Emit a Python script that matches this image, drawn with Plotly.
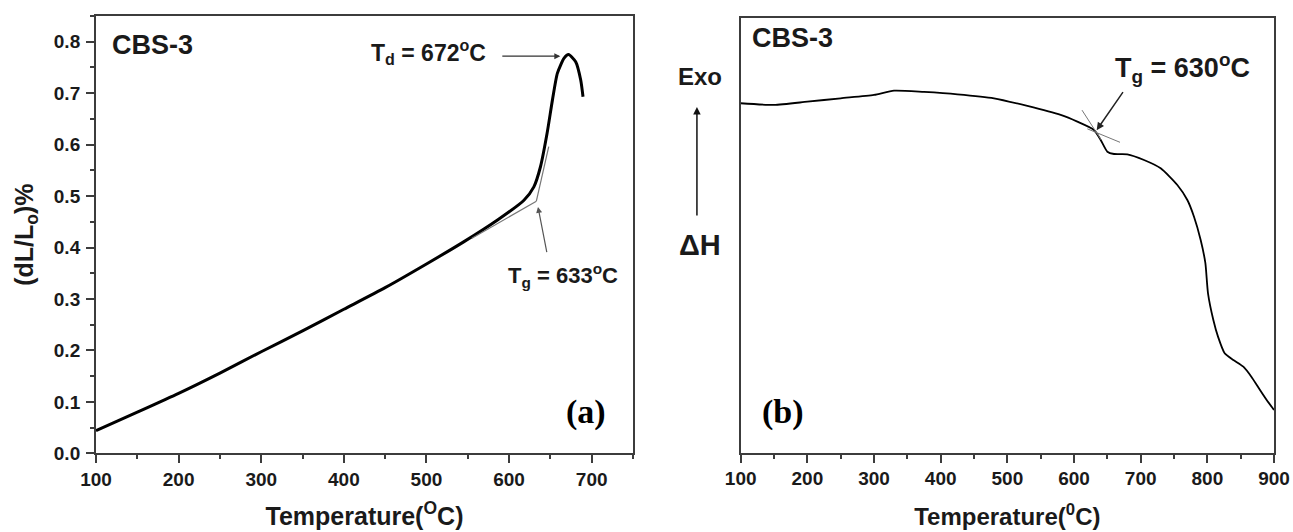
import plotly.graph_objects as go

# ---- dilatometry (CBS-3) ----
dil_temp = [100, 150, 200, 250, 300, 350, 400, 450, 500, 545, 586, 618, 630,
            638, 646, 652.5, 658.5, 666.6, 672, 680.6, 686.7, 689.5]
dil_dl = [0.044, 0.080, 0.1166, 0.156, 0.1975, 0.238, 0.280, 0.322, 0.368,
          0.411, 0.4535, 0.492, 0.518, 0.557, 0.622, 0.687, 0.739, 0.768,
          0.775, 0.761, 0.7256, 0.693]
dil_tangent_low_t = [555, 633]
dil_tangent_low_y = [0.418, 0.490]
dil_tangent_high_t = [633, 648]
dil_tangent_high_y = [0.490, 0.596]

# ---- DSC (CBS-3), arbitrary heat-flow units ----
dsc_temp = [100, 150, 200, 250, 300, 330, 375, 425, 480, 530, 580, 605, 630,
            640, 650, 660, 680, 705, 730, 755, 770, 780, 790, 797, 801, 809,
            816, 826, 839, 854, 866, 879, 889, 900]
dsc_heat = [80.38, 79.99, 80.74, 81.53, 82.29, 83.28, 82.98, 82.45, 81.53,
            79.76, 77.69, 76.15, 74.24, 71.94, 69.24, 68.71, 68.64, 67.33,
            65.43, 61.58, 58.13, 54.29, 48.93, 43.64, 36.67, 30.53, 26.69,
            22.87, 21.33, 19.78, 17.48, 14.42, 12.12, 9.82]
dsc_tangent_a_t = [612, 641]
dsc_tangent_a_y = [78.8, 71.9]
dsc_tangent_b_t = [620, 669]
dsc_tangent_b_y = [74.5, 71.4]

x_ticks_a = [100, 200, 300, 400, 500, 600, 700]
y_ticks_a = [0.0, 0.1, 0.2, 0.3, 0.4, 0.5, 0.6, 0.7, 0.8]
x_ticks_b = [100, 200, 300, 400, 500, 600, 700, 800, 900]

SANS = "Liberation Sans, Arial, sans-serif"
SERIF = "Liberation Serif, Times New Roman, serif"
AXIS_COLOR = "#3c3c3c"

fig = go.Figure()

fig.add_trace(go.Scatter(x=dil_temp, y=dil_dl, mode="lines",
                         line=dict(color="black", width=3, shape="spline",
                                   smoothing=0.6),
                         xaxis="x", yaxis="y", showlegend=False))
fig.add_trace(go.Scatter(x=dil_tangent_low_t, y=dil_tangent_low_y, mode="lines",
                         line=dict(color="#777777", width=1.2),
                         xaxis="x", yaxis="y", showlegend=False))
fig.add_trace(go.Scatter(x=dil_tangent_high_t, y=dil_tangent_high_y, mode="lines",
                         line=dict(color="#777777", width=1.2),
                         xaxis="x", yaxis="y", showlegend=False))

fig.add_trace(go.Scatter(x=dsc_temp, y=dsc_heat, mode="lines",
                         line=dict(color="black", width=1.8, shape="spline",
                                   smoothing=0.6),
                         xaxis="x2", yaxis="y2", showlegend=False))
fig.add_trace(go.Scatter(x=dsc_tangent_a_t, y=dsc_tangent_a_y, mode="lines",
                         line=dict(color="#777777", width=1),
                         xaxis="x2", yaxis="y2", showlegend=False))
fig.add_trace(go.Scatter(x=dsc_tangent_b_t, y=dsc_tangent_b_y, mode="lines",
                         line=dict(color="#777777", width=1),
                         xaxis="x2", yaxis="y2", showlegend=False))

tickfont = dict(family=SANS, size=19, color="#1a1a1a", weight="bold")
titlefont = dict(family=SANS, size=25, color="#1a1a1a", weight="bold")

common_axis = dict(showline=True, linecolor=AXIS_COLOR, linewidth=2,
                   mirror=True, showgrid=False, zeroline=False,
                   automargin=False,
                   ticks="outside", ticklen=8, tickwidth=1.5,
                   tickcolor=AXIS_COLOR, tickfont=tickfont)

fig.update_layout(
    width=1293, height=532,
    margin=dict(l=0, r=0, t=0, b=0, autoexpand=False),
    paper_bgcolor="white", plot_bgcolor="white",
    xaxis=dict(common_axis, domain=[0.07425, 0.48956], range=[100, 750],
               tickvals=x_ticks_a, ticklabelstandoff=0,
               minor=dict(ticks="outside", ticklen=4, tickwidth=1.5,
                          tickcolor=AXIS_COLOR, dtick=50, tick0=100),
               title=dict(text="Temperature(<sup>O</sup>C)", font=titlefont,
                          standoff=18),
               anchor="y"),
    yaxis=dict(common_axis, domain=[0.1479, 0.9699], range=[0, 0.85],
               tickvals=y_ticks_a, tickformat=".1f", ticklabelstandoff=2,
               minor=dict(ticks="outside", ticklen=4, tickwidth=1.5,
                          tickcolor=AXIS_COLOR, dtick=0.05, tick0=0),
               title=dict(text="(dL/L<sub>o</sub>)%", font=titlefont,
                          standoff=13),
               anchor="x"),
    xaxis2=dict(common_axis, domain=[0.57285, 0.98531], range=[100, 900],
                tickvals=x_ticks_b, ticklabelstandoff=0,
                minor=dict(ticks="outside", ticklen=4, tickwidth=1.5,
                           tickcolor=AXIS_COLOR, dtick=50, tick0=100),
                title=dict(text="Temperature(<sup>0</sup>C)",
                           font=dict(titlefont, size=24), standoff=20),
                anchor="y2"),
    yaxis2=dict(showline=True, linecolor=AXIS_COLOR, linewidth=2, mirror=True,
                showgrid=False, zeroline=False, ticks="", showticklabels=False,
                automargin=False,
                domain=[0.1491, 0.9662], range=[0, 100], anchor="x2"),
)

ann_font = dict(family=SANS, size=23, color="#1a1a1a", weight="bold")
label_font = dict(family=SERIF, size=34, color="black", weight="bold")
annotations = [
    # panel (a)
    dict(text="CBS-3", x=0.0851, y=0.9154, xref="paper", yref="paper",
         xanchor="left", yanchor="middle", showarrow=False,
         font=dict(ann_font, size=27)),
    dict(text="T<sub>d</sub> = 672<sup>o</sup>C", x=503, y=0.78,
         xref="x", yref="y", xanchor="center", yanchor="middle",
         showarrow=False, font=ann_font),
    dict(text="", x=662, y=0.772, ax=590, ay=0.772, xref="x", yref="y",
         axref="x", ayref="y", showarrow=True, arrowhead=2, arrowsize=1,
         arrowwidth=1.2, arrowcolor="#333333"),
    dict(text="T<sub>g</sub> = 633<sup>o</sup>C", x=665, y=0.345,
         xref="x", yref="y", xanchor="center", yanchor="middle",
         showarrow=False, font=dict(ann_font, size=22)),
    dict(text="", x=635, y=0.479, ax=646, ay=0.388, xref="x", yref="y",
         axref="x", ayref="y", showarrow=True, arrowhead=2, arrowsize=1,
         arrowwidth=1.2, arrowcolor="#555555"),
    dict(text="(a)", x=0.4532, y=0.2256, xref="paper", yref="paper",
         xanchor="center", yanchor="middle", showarrow=False,
         font=label_font),
    # panel (b)
    dict(text="CBS-3", x=0.58, y=0.9286, xref="paper", yref="paper",
         xanchor="left", yanchor="middle", showarrow=False,
         font=dict(ann_font, size=27)),
    dict(text="T<sub>g</sub> = 630<sup>o</sup>C", x=763, y=88.5,
         xref="x2", yref="y2", xanchor="center", yanchor="middle",
         showarrow=False, font=dict(ann_font, size=27)),
    dict(text="", x=634, y=74.2, ax=675, ay=83.3, xref="x2", yref="y2",
         axref="x2", ayref="y2", showarrow=True, arrowhead=2, arrowsize=1,
         arrowwidth=1.5, arrowcolor="#222222"),
    dict(text="(b)", x=0.6056, y=0.2256, xref="paper", yref="paper",
         xanchor="center", yanchor="middle", showarrow=False,
         font=label_font),
    dict(text="Exo", x=0.5414, y=0.8553, xref="paper", yref="paper",
         xanchor="center", yanchor="middle", showarrow=False,
         font=dict(ann_font, size=24)),
    dict(text="ΔH", x=0.5414, y=0.5395, xref="paper", yref="paper",
         xanchor="center", yanchor="middle", showarrow=False,
         font=dict(ann_font, size=29)),
    dict(text="", x=0.539, y=0.799, ax=0, ay=110, xref="paper",
         yref="paper", axref="pixel", ayref="pixel", showarrow=True,
         arrowhead=2, arrowsize=1, arrowwidth=1.5, arrowcolor="#111111"),
]
fig.update_layout(annotations=annotations)

fig.write_html("out.html")
